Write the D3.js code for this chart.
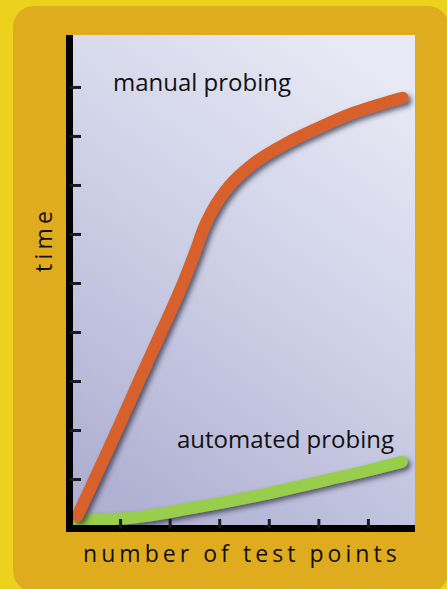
<!DOCTYPE html>
<html>
<head>
<meta charset="utf-8">
<script src="https://cdn.jsdelivr.net/npm/d3@7"></script>
<style>
  html, body { margin: 0; padding: 0; background: #EDD21D; }
  svg { display: block; }
  text { font-family: "Open Sans", "Noto Sans", sans-serif; fill: #111; }
</style>
</head>
<body>
<svg id="chart" width="447" height="589"></svg>
<script>
// Test points (x) and time (y), in axis units
const manualX = [0.14, 0.94, 1.38, 1.82, 2.27, 2.52, 2.68, 2.90, 3.20, 3.68, 4.37, 5.03, 5.70, 6.38, 6.70];
const manualY = [0.25, 2.00, 3.00, 3.98, 5.00, 5.65, 6.10, 6.55, 6.98, 7.43, 7.86, 8.18, 8.47, 8.69, 8.78];
const autoX = [0.05, 1.14, 2.47, 3.82, 5.17, 6.18, 6.68];
const autoY = [0.16, 0.20, 0.41, 0.67, 0.98, 1.22, 1.35];
const xTicks = [1, 2, 3, 4, 5, 6];
const yTicks = [1, 2, 3, 4, 5, 6, 7, 8, 9];
const seriesLabels = ["manual probing", "automated probing"];
const xTitle = "number of test points";
const yTitle = "time";

const svg = d3.select("#chart");
const defs = svg.append("defs");

const bg = defs.append("linearGradient").attr("id", "plotBg")
  .attr("x1", "75%").attr("y1", "0%").attr("x2", "25%").attr("y2", "100%");
bg.append("stop").attr("offset", "0%").attr("stop-color", "#E7E9F5");
bg.append("stop").attr("offset", "50%").attr("stop-color", "#CDCFE6");
bg.append("stop").attr("offset", "100%").attr("stop-color", "#AFB0D2");

const shadow = defs.append("filter").attr("id", "shadow")
  .attr("x", "-20%").attr("y", "-20%").attr("width", "140%").attr("height", "140%");
shadow.append("feDropShadow").attr("dx", 3).attr("dy", 3)
  .attr("stdDeviation", 2.4).attr("flood-color", "#2a2a3a").attr("flood-opacity", 0.7);

// Panel behind the chart
svg.append("rect").attr("x", 13).attr("y", 6).attr("width", 436).attr("height", 586)
  .attr("rx", 21).attr("fill", "#E0AC1F");

const plot = { left: 66, right: 415, top: 35, bottom: 532 };
const x = d3.scaleLinear().domain([0, 6.95]).range([70.5, plot.right]);
const y = d3.scaleLinear().domain([0, 10.06]).range([528, plot.top]);

svg.append("rect")
  .attr("x", plot.left).attr("y", plot.top)
  .attr("width", plot.right - plot.left).attr("height", plot.bottom - plot.top)
  .attr("fill", "url(#plotBg)");

const line = d3.line().x(d => x(d[0])).y(d => y(d[1])).curve(d3.curveMonotoneX);

svg.append("path")
  .datum(d3.zip(autoX, autoY))
  .attr("d", line)
  .attr("fill", "none").attr("stroke", "#98CE4C").attr("stroke-width", 12)
  .attr("stroke-linecap", "round").attr("filter", "url(#shadow)");

svg.append("path")
  .datum(d3.zip(manualX, manualY))
  .attr("d", line)
  .attr("fill", "none").attr("stroke", "#D8602A").attr("stroke-width", 12)
  .attr("stroke-linecap", "round").attr("filter", "url(#shadow)");

// Axes: heavy black spines with short inward ticks
const yAxis = svg.append("g").attr("transform", "translate(69.5,0)")
  .call(d3.axisLeft(y).tickValues(yTicks).tickSizeInner(-11.5).tickSizeOuter(0).tickFormat(""));
yAxis.select(".domain").attr("stroke", "#000").attr("stroke-width", 7)
  .attr("d", `M0,${plot.top}V${plot.bottom}`);
yAxis.selectAll(".tick line").attr("stroke", "#1a1a22").attr("stroke-width", 3);

const xAxis = svg.append("g").attr("transform", "translate(0,528.5)")
  .call(d3.axisBottom(x).tickValues(xTicks).tickSizeInner(-9.5).tickSizeOuter(0).tickFormat(""));
xAxis.select(".domain").attr("stroke", "#000").attr("stroke-width", 7)
  .attr("d", `M${plot.left},0H${plot.right}`);
xAxis.selectAll(".tick line").attr("stroke", "#1a1a22").attr("stroke-width", 3);

// Series labels
svg.append("text").attr("x", 113).attr("y", 91).attr("font-size", 24).text(seriesLabels[0]);
svg.append("text").attr("x", 177).attr("y", 448).attr("font-size", 24).text(seriesLabels[1]);

// Axis titles
svg.append("text").attr("x", 83).attr("y", 562).attr("font-size", 23)
  .attr("letter-spacing", 4.05).text(xTitle);
svg.append("text").attr("transform", "translate(52,272) rotate(-90)")
  .attr("font-size", 23).attr("letter-spacing", 4.2).text(yTitle);
</script>
</body>
</html>
